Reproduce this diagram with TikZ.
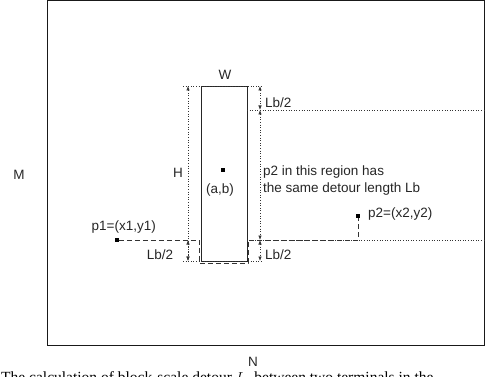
\documentclass[tikz,border=0pt]{standalone}
\usepackage{fontspec}
\setmainfont{Liberation Serif}
\setsansfont{Liberation Sans}
\usetikzlibrary{arrows.meta}
\tikzset{
  lbl/.style={inner sep=0pt, text=black!85},
  dotm/.style={fill=black, inner sep=0pt, minimum size=3.2pt, draw=none},
  dim/.style={dotted, line width=0.6pt, black!80},
  dimarr/.style={dim, {Latex[length=4.5pt,width=3.4pt]}-{Latex[length=4.5pt,width=3.4pt]}},
  route/.style={dashed, dash pattern=on 5pt off 3pt, line width=0.8pt, black!80},
  blockbox/.style={draw=black!85, line width=0.9pt},
}
\begin{document}
\begin{tikzpicture}[x=1pt,y=-1pt, font=\sffamily\fontsize{13.5}{16}\selectfont]
\useasboundingbox (0,0) rectangle (485,377);
% outer frame
\draw[line width=1pt, black!90] (47,1) rectangle (484,345);
\node[lbl] (M) at (19,175) {M};
\node[lbl] (N) at (253,362) {N};
% block
\node[blockbox, minimum width=46pt, minimum height=175pt, inner sep=0pt] (blk) at (224,173.5) {};
\node[dotm] (ctr) at (223,170) {};
\node[lbl] (ab) at (220,190) {(a,b)};
\node[lbl] (W) at (225,75) {W};
% coordinates
\coordinate (lt) at (188,86);
\coordinate (lm) at (188,240);
\coordinate (lb) at (188,261);
\coordinate (rt) at (260,86);
\coordinate (r1) at (260,110);
\coordinate (r2) at (260,240);
\coordinate (rb) at (260,261);
% horizontal dotted guides
\draw[dim] (183,86) -- (263,86);
\draw[dim] (183,261) -- (263,261);
\draw[dim] (247,110) -- (484,110);
\draw[dim] (247,240) -- (484,240);
% left dimensions
\draw[dimarr] (lt) -- (lb);
\draw[dimarr] (lm) -- (lb);
\node[lbl, anchor=east] (H) at (183,173) {H};
\node[lbl] (lbl1) at (160,255) {Lb/2};
% right dimensions
\draw[dimarr] (rt) -- (r1);
\draw[dimarr] (r1) -- (r2);
\draw[dimarr] (r2) -- (rb);
\node[lbl, anchor=west] (lbt) at (265,103) {Lb/2};
\node[lbl, anchor=west] (lbr) at (265,255) {Lb/2};
\node[lbl, anchor=west] (t1) at (263,172) {p2 in this region has};
\node[lbl, anchor=west] (t2) at (263,189) {the same detour length Lb};
% terminals
\node[dotm] (p1) at (117,240) {};
\node[dotm] (p2) at (358,216) {};
\node[lbl, anchor=east] (p1l) at (156,227) {p1=(x1,y1)};
\node[lbl, anchor=west] (p2l) at (368,214) {p2=(x2,y2)};
% detour route
\coordinate (d1) at (199,240);
\coordinate (d2) at (199,263);
\coordinate (d3) at (248,263);
\coordinate (d4) at (248,240);
\coordinate (d5) at (358,240);
\draw[route] (p1) -- (d1) -- (d2) -- (d3) -- (d4) -- (d5) -- (p2);
% caption (cut by the page edge, as in the reference)
\node[anchor=base west, inner sep=0pt, font=\rmfamily\fontsize{15.5}{18}\selectfont] (cap) at (1,382.5) {The calculation of block-scale detour $L_b$ between two terminals in the};
\end{tikzpicture}
\end{document}
